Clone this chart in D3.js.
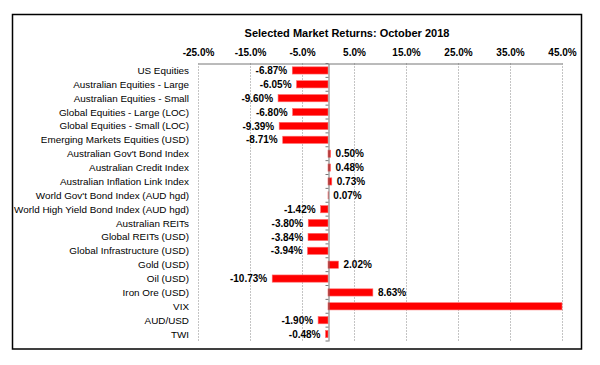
<!DOCTYPE html>
<html>
<head>
<meta charset="utf-8">
<script src="https://cdn.jsdelivr.net/npm/d3@7"></script>
<style>
  body { margin: 0; background: #fff; }
  text { font-family: "Liberation Sans", Arial, sans-serif; }
</style>
</head>
<body>
<div id="chart"></div>
<script>
// chart data
const categories = [
  "US Equities", "Australian Equities - Large", "Australian Equities - Small",
  "Global Equities - Large (LOC)", "Global Equities - Small (LOC)",
  "Emerging Markets Equities (USD)", "Australian Gov't Bond Index",
  "Australian Credit Index", "Australian Inflation Link Index",
  "World Gov't Bond Index (AUD hgd)", "World High Yield Bond Index (AUD hgd)",
  "Australian REITs", "Global REITs (USD)", "Global Infrastructure (USD)",
  "Gold (USD)", "Oil (USD)", "Iron Ore (USD)", "VIX", "AUD/USD", "TWI"
];
const returns = [
  -6.87, -6.05, -9.60, -6.80, -9.39, -8.71, 0.50, 0.48, 0.73, 0.07,
  -1.42, -3.80, -3.84, -3.94, 2.02, -10.73, 8.63, 45.0, -1.90, -0.48
];
const tickValues = [-25, -15, -5, 5, 15, 25, 35, 45];
const title = "Selected Market Returns: October 2018";

const width = 600, height = 365;
const plot = { left: 198, right: 562, top: 63.5, bottom: 341 };

// plain hyphen instead of d3's unicode minus
const pct = (v, p) => d3.format("." + p + "f")(v).replace("\u2212", "-") + "%";

const svg = d3.select("#chart").append("svg")
  .attr("width", width)
  .attr("height", height);

// outer frame
svg.append("rect")
  .attr("x", 12.5).attr("y", 14.5)
  .attr("width", 569).attr("height", 334.5)
  .attr("fill", "#fff")
  .attr("stroke", "#000")
  .attr("stroke-width", 1.5);

svg.append("text")
  .attr("x", 347).attr("y", 37)
  .attr("text-anchor", "middle")
  .attr("font-size", 11)
  .attr("font-weight", "bold")
  .text(title);

const x = d3.scaleLinear()
  .domain([-25, 45])
  .range([plot.left, plot.right])
  .clamp(true);

const y = d3.scaleBand()
  .domain(categories)
  .range([plot.top, plot.bottom])
  .paddingInner(0.48)
  .paddingOuter(0.24);

// dotted gridlines
svg.append("g")
  .selectAll("line")
  .data(tickValues)
  .join("line")
  .attr("x1", d => Math.round(x(d)) + 0.5)
  .attr("x2", d => Math.round(x(d)) + 0.5)
  .attr("y1", plot.top)
  .attr("y2", plot.bottom)
  .attr("stroke", "#888")
  .attr("stroke-dasharray", "1,2");

// top axis
const xAxis = svg.append("g")
  .attr("transform", `translate(0,${plot.top})`)
  .call(d3.axisTop(x)
    .tickValues(tickValues)
    .tickSize(0)
    .tickPadding(8)
    .tickFormat(d => pct(d, 1)));
xAxis.select(".domain").attr("stroke", "#777");
xAxis.selectAll("text")
  .attr("font-size", 10)
  .attr("font-weight", "bold")
  .attr("fill", "#000")
  .style("font-family", "'Liberation Sans', Arial, sans-serif");

// bars
svg.append("g")
  .selectAll("rect")
  .data(categories)
  .join("rect")
  .attr("x", (d, i) => Math.min(x(0), x(returns[i])))
  .attr("y", d => y(d))
  .attr("width", (d, i) => Math.abs(x(returns[i]) - x(0)))
  .attr("height", y.bandwidth())
  .attr("fill", "#ff0000")
  .attr("stroke", "#ff6a6a")
  .attr("stroke-width", 0.6);

// zero axis with category ticks
const yAxis = svg.append("g")
  .attr("transform", `translate(${Math.round(x(0)) + 0.5},0)`)
  .call(d3.axisLeft(y).tickSize(0).tickFormat(""));
yAxis.select(".domain").attr("stroke", "#777");
yAxis.append("g")
  .selectAll("line")
  .data(d3.range(categories.length + 1))
  .join("line")
  .attr("x1", -3).attr("x2", 0)
  .attr("y1", i => plot.top + i * (plot.bottom - plot.top) / categories.length)
  .attr("y2", i => plot.top + i * (plot.bottom - plot.top) / categories.length)
  .attr("stroke", "#777");

// category labels
svg.append("g")
  .selectAll("text")
  .data(categories)
  .join("text")
  .attr("x", 189)
  .attr("y", d => y(d) + y.bandwidth() / 2)
  .attr("dy", "0.35em")
  .attr("text-anchor", "end")
  .attr("font-size", 9.9)
  .text(d => d);

// value labels (hidden when the bar runs off the axis)
svg.append("g")
  .selectAll("text")
  .data(categories.filter((d, i) => returns[i] < 45))
  .join("text")
  .attr("x", d => {
    const v = returns[categories.indexOf(d)];
    return v < 0 ? x(v) - 5 : x(v) + 5;
  })
  .attr("y", d => y(d) + y.bandwidth() / 2)
  .attr("dy", "0.36em")
  .attr("text-anchor", d => returns[categories.indexOf(d)] < 0 ? "end" : "start")
  .attr("font-size", 10)
  .attr("font-weight", "bold")
  .text(d => pct(returns[categories.indexOf(d)], 2));
</script>
</body>
</html>
